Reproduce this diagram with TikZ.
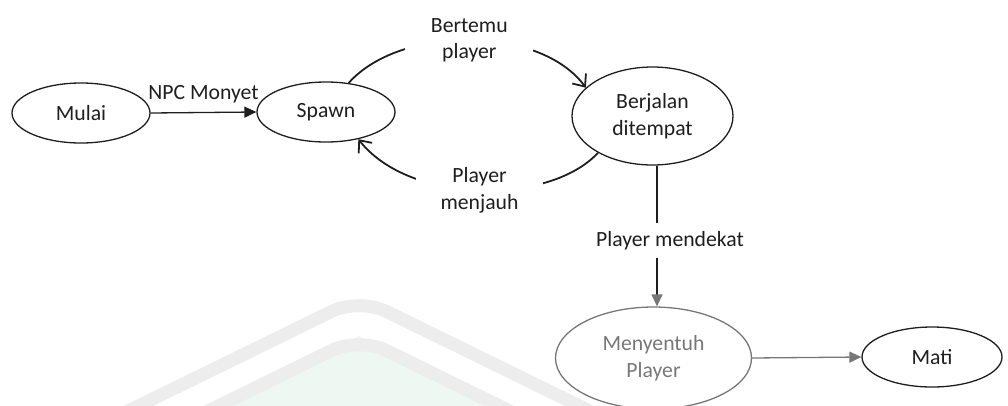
\documentclass[tikz,border=0pt]{standalone}
\usepackage{fontspec}
\setmainfont{Carlito}
\usetikzlibrary{shapes.geometric,arrows.meta}
\definecolor{ink}{HTML}{1E1E1E}
\definecolor{wm}{HTML}{EDEDED}
\definecolor{wmg}{HTML}{EEF7F1}
\definecolor{fade}{HTML}{777777}
\tikzset{
  st/.style={ellipse, draw=ink, line width=1.3pt, inner sep=2pt, align=center,
    text=ink, font=\fontsize{21.7}{26.5}\selectfont},
  faded/.style={draw=fade, text=fade},
  conn/.style={draw=ink, line width=1.3pt},
  curv/.style={draw=ink, line width=1.8pt, -{Straight Barb[length=10pt,width=17pt]}},
  tri/.style={-{Triangle[length=12pt,width=11pt]}},
  lbl/.style={fill=white, align=center, text=ink, font=\fontsize{21.7}{26.5}\selectfont}
}
\begin{document}
\begin{tikzpicture}[x=1pt,y=-1pt]
\useasboundingbox (0,0) rectangle (1008,405);
% faint watermark
\fill[wmg] (205,412) -- (359,336) -- (513,412) -- cycle;
\draw[wm, line width=13pt, rounded corners=30pt] (120,415) -- (359,298) -- (598,415);
\draw[wm, line width=13pt, rounded corners=30pt] (200,415) -- (359,337) -- (518,415);
% nodes
\node[st, minimum width=138pt, minimum height=60pt] (mulai) at (81,113) {Mulai};
\node[st, minimum width=138pt, minimum height=60pt] (spawn) at (326,112) {Spawn};
\node[st, minimum width=161pt, minimum height=98pt] (berjalan) at (652.5,116) {Berjalan\\ditempat};
\node[st, faded, minimum width=196pt, minimum height=102pt] (menyentuh) at (653.5,358) {Menyentuh\\Player};
\node[st, minimum width=140pt, minimum height=60pt] (mati) at (932,357) {Mati};
\coordinate (vx) at (657,0);
% connectors
\draw[conn, tri] (mulai.east) -- node[lbl, fill=none, above=6pt] {NPC Monyet} (spawn.west);
\draw[curv] (spawn.52) .. controls (400,25) and (540,25) .. node[lbl, minimum width=128pt, inner ysep=4pt] {Bertemu\\player} (berjalan.157);
\draw[curv] (berjalan.214) .. controls (550,205) and (410,205) .. node[lbl, minimum width=127pt, inner ysep=4pt] {Player\\menjauh} (spawn.320);
\draw[conn, -{Triangle[length=12pt,width=11pt,color=fade]}] (berjalan.south -| vx) -- node[lbl, pos=0.53, xshift=13pt, inner ysep=8pt] {Player mendekat} (menyentuh.north -| vx);
\draw[conn, draw=fade, tri] (menyentuh.east) -- (mati.west);
\end{tikzpicture}
\end{document}
